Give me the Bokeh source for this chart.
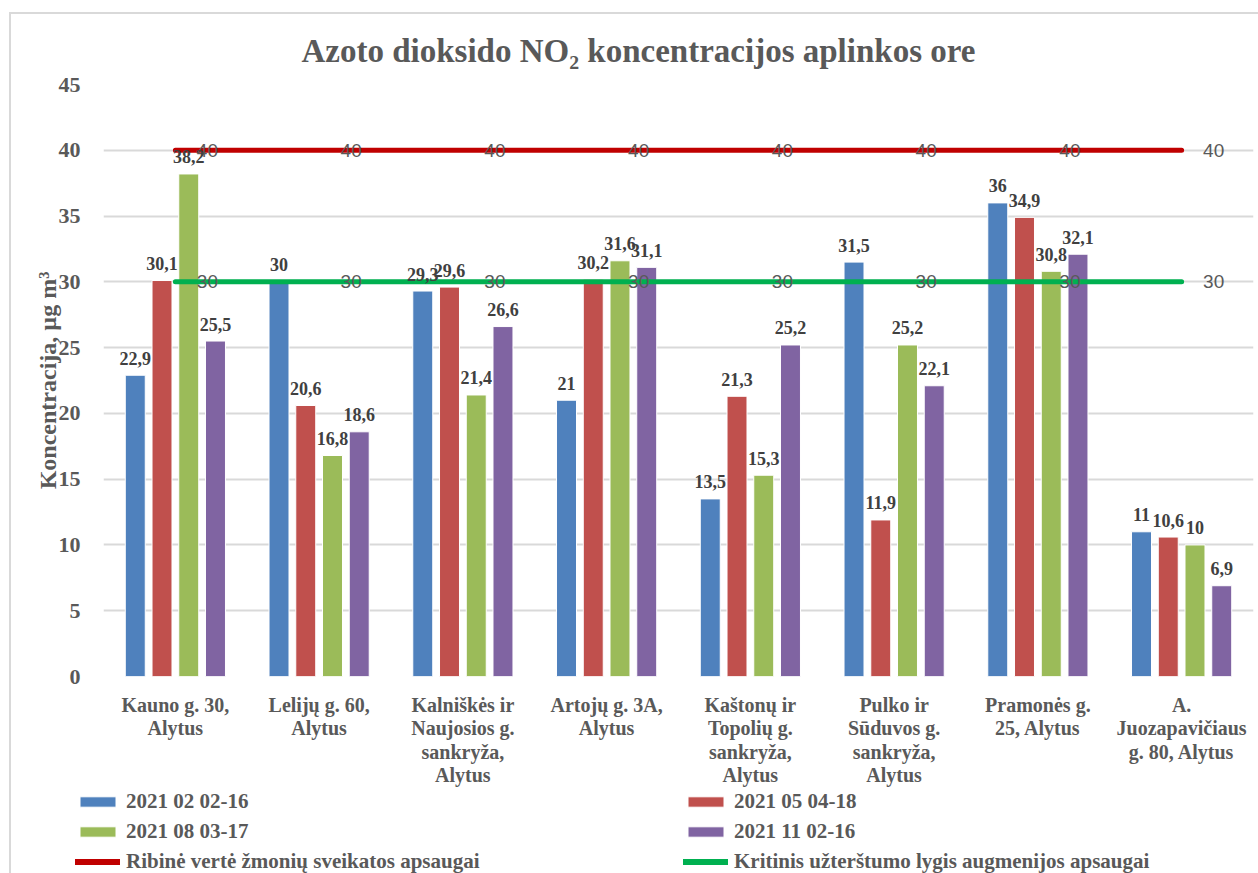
from bokeh.plotting import figure
from bokeh.models import (Range1d, FactorRange, ColumnDataSource, Legend, LegendItem,
                          FixedTicker)
from bokeh.transform import dodge
from bokeh.core.properties import value
from bokeh.embed import file_html
from bokeh.resources import INLINE

# ---------------- data ----------------
categories = [
    "Kauno g. 30,\nAlytus",
    "Lelijų g. 60,\nAlytus",
    "Kalniškės ir\nNaujosios g.\nsankryža,\nAlytus",
    "Artojų g. 3A,\nAlytus",
    "Kaštonų ir\nTopolių g.\nsankryža,\nAlytus",
    "Pulko ir\nSūduvos g.\nsankryža,\nAlytus",
    "Pramonės g.\n25, Alytus",
    "A.\nJuozapavičiaus\ng. 80, Alytus",
]
series_names = ["2021 02 02-16", "2021 05 04-18", "2021 08 03-17", "2021 11 02-16"]
s_feb = [22.9, 30, 29.3, 21, 13.5, 31.5, 36, 11]
s_may = [30.1, 20.6, 29.6, 30.2, 21.3, 11.9, 34.9, 10.6]
s_aug = [38.2, 16.8, 21.4, 31.6, 15.3, 25.2, 30.8, 10]
s_nov = [25.5, 18.6, 26.6, 31.1, 25.2, 22.1, 32.1, 6.9]
line_names = ["Ribinė vertė žmonių sveikatos apsaugai",
              "Kritinis užterštumo lygis augmenijos apsaugai"]
limit_health = [40, 40, 40, 40, 40, 40, 40, 40]
limit_veg = [30, 30, 30, 30, 30, 30, 30, 30]
y_ticks = [0, 5, 10, 15, 20, 25, 30, 35, 40, 45]

# ---------------- style ----------------
bar_colors = ["#4F81BD", "#C0504D", "#9BBB59", "#8064A2"]
line_colors = ["#C00000", "#00B050"]
offsets = [-0.279, -0.093, 0.093, 0.279]
bar_w = 0.139
SERIF = "Liberation Serif"
GREY = "#595959"
BORDER = "#D9D9D9"
NAN = float("nan")


def fmt(v):
    return ("%g" % v).replace(".", ",")


p = figure(x_range=FactorRange(factors=categories, range_padding=0),
           y_range=Range1d(0, 45),
           width=1258, height=789,
           output_backend="svg", toolbar_location=None,
           min_border_left=103, min_border_right=5,
           min_border_top=84, min_border_bottom=112)

p.background_fill_color = "white"
p.border_fill_color = None
p.outline_line_color = None
p.styles = {"box-shadow": "inset 9px 12px 0 0 #ffffff, inset 11px 14px 0 0 " + BORDER,
            "background-color": "#ffffff"}

# title
p.title.text = "Azoto dioksido NO₂ koncentracijos aplinkos ore"
p.title.align = "left"
p.title.offset = 198
p.title.standoff = 31
p.title.text_font = SERIF
p.title.text_font_style = "bold"
p.title.text_font_size = "33px"
p.title.text_color = GREY

# bars
bar_renderers = []
for vals, col, off in zip([s_feb, s_may, s_aug, s_nov], bar_colors, offsets):
    src = ColumnDataSource(dict(cat=categories, v=vals, lbl=[fmt(v) for v in vals]))
    r = p.vbar(x=dodge("cat", off, range=p.x_range), top="v", width=bar_w, source=src,
               fill_color=col, line_color="white", line_width=1)
    bar_renderers.append((r, src, off))

# threshold lines
for vals, col in zip([limit_health, limit_veg], line_colors):
    lsrc = ColumnDataSource(dict(cat=categories, v=vals, lbl=[fmt(v) for v in vals]))
    p.line(x="cat", y="v", source=lsrc, line_color=col, line_width=5, line_cap="round")
    p.text(x="cat", y="v", text="lbl", source=lsrc, x_offset=32,
           text_align="center", text_baseline="middle",
           text_font=value("Liberation Sans Narrow, Liberation Sans"),
           text_font_size="19px", text_color=GREY)

# data labels
for r, src, off in bar_renderers:
    p.text(x=dodge("cat", off, range=p.x_range), y="v", text="lbl", source=src,
           y_offset=-17, text_align="center", text_baseline="alphabetic",
           text_font=value(SERIF), text_font_style="bold",
           text_font_size="18px", text_color="#404040")

# axes
p.yaxis.ticker = FixedTicker(ticks=y_ticks)
p.yaxis.axis_label = "Koncentracija, µg m³"
p.yaxis.axis_label_text_font = SERIF
p.yaxis.axis_label_text_font_style = "bold"
p.yaxis.axis_label_text_font_size = "24px"
p.yaxis.axis_label_text_color = GREY
p.yaxis.axis_label_standoff = -5
p.yaxis.major_label_text_font = SERIF
p.yaxis.major_label_text_font_style = "bold"
p.yaxis.major_label_text_font_size = "22px"
p.yaxis.major_label_text_color = GREY
p.yaxis.major_label_standoff = 17
p.yaxis.axis_line_color = None
p.yaxis.major_tick_line_color = None
p.yaxis.minor_tick_line_color = None

p.xaxis.major_label_text_font = SERIF
p.xaxis.major_label_text_font_style = "bold"
p.xaxis.major_label_text_font_size = "20px"
p.xaxis.major_label_text_color = GREY
p.xaxis.major_label_text_line_height = 1.07
p.xaxis.major_label_standoff = 11
p.xaxis.axis_line_color = None
p.xaxis.major_tick_line_color = None
p.xaxis.minor_tick_line_color = None

p.xgrid.grid_line_color = None
p.ygrid.grid_line_color = BORDER
p.ygrid.grid_line_width = 2

# ---------------- legend strip (keys styled like the series above) ----------------
pl = figure(width=1258, height=84, x_range=Range1d(0, 1), y_range=Range1d(0, 1),
            output_backend="svg", toolbar_location=None,
            x_axis_location=None, y_axis_location=None,
            min_border_left=0, min_border_right=0, min_border_top=0, min_border_bottom=0)
pl.outline_line_color = None
pl.xgrid.grid_line_color = None
pl.ygrid.grid_line_color = None
pl.background_fill_color = None
pl.border_fill_color = None
pl.styles = {"box-shadow": "inset 9px 0 0 0 #ffffff, inset 11px 0 0 0 " + BORDER,
             "background-color": "#ffffff"}

keys = {}
for name, col in zip(series_names, bar_colors):
    keys[name] = pl.vbar(x=[NAN], top=[NAN], width=0.1, fill_color=col,
                         line_color="white", line_width=1)
for name, col in zip(line_names, line_colors):
    keys[name] = pl.line(x=[NAN, NAN], y=[NAN, NAN], line_color=col, line_width=6,
                         line_cap="round")

# 3 rows x 2 columns, items listed column by column
order = [series_names[0], series_names[2], line_names[0],
         series_names[1], series_names[3], line_names[1]]
leg = Legend(items=[LegendItem(label=n, renderers=[keys[n]]) for n in order],
             location=(75, -1), orientation="vertical", nrows=3, ncols=2,
             border_line_color=None, background_fill_alpha=0,
             padding=0, margin=0, spacing=5,
             glyph_width=45, glyph_height=13, label_standoff=6,
             label_height=24, label_width=552,
             label_text_font=SERIF, label_text_font_style="bold",
             label_text_font_size="21px", label_text_color=GREY)
pl.add_layout(leg, "center")

open("out.html", "w").write(file_html([p, pl], INLINE))
